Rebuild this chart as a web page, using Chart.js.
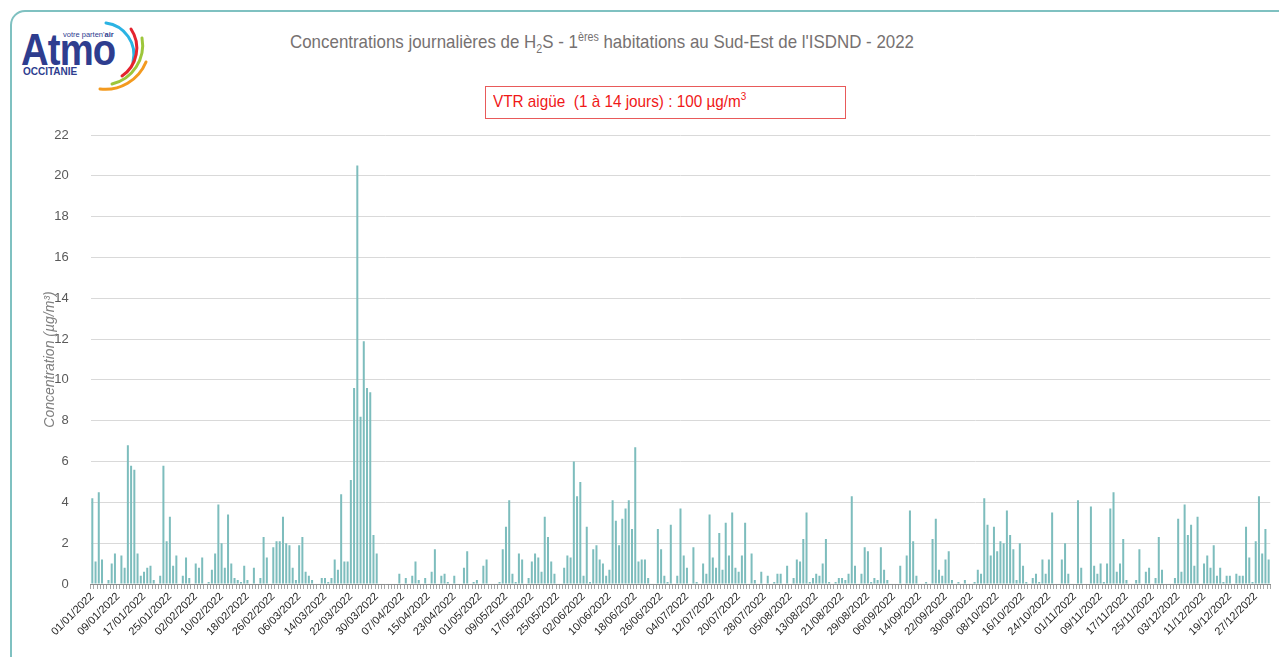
<!DOCTYPE html>
<html lang="fr">

<head>
  <meta charset="UTF-8">
  <title>Concentrations journalières de H2S - 2022</title>
  <script src="https://cdn.jsdelivr.net/npm/chart.js"></script>
  <style>
    body { margin: 0; background: #fff; font-family: 'Liberation Sans', Arial, sans-serif; }
    .frame { position: absolute; left: 10px; top: 10px; width: 1320px; height: 700px;
             border: 2px solid #7fc1c1; border-radius: 15px; box-sizing: border-box; }
    .logo-atmo { position: absolute; left: 21px; top: 28px; font-size: 44px; line-height: 44px;
                 font-weight: bold; color: #2e3d8f; transform: scaleX(0.87); transform-origin: left top;
                 letter-spacing: -1px; }
    .logo-tag { position: absolute; left: 63px; top: 31px; font-size: 7.5px; line-height: 8px; color: #2e3d8f; }
    .logo-occ { position: absolute; left: 23px; top: 67px; font-size: 10px; line-height: 10px;
                font-weight: bold; color: #2e3d8f; }
    .chart-title { position: absolute; left: 290px; top: 32px; font-size: 19px; line-height: 19px;
                   color: #767171; white-space: nowrap; transform: scaleX(0.89); transform-origin: left top; }
    .chart-title sub, .chart-title sup { font-size: 12px; line-height: 0; }
    .vtr-box { position: absolute; left: 485px; top: 86px; width: 361px; height: 33px;
               border: 1px solid #e85a5a; box-sizing: border-box; }
    .vtr-text { position: absolute; left: 493px; top: 93px; font-size: 17px; line-height: 17px;
                color: #f01818; white-space: nowrap; transform: scaleX(0.9); transform-origin: left top; }
    .vtr-text sup { font-size: 11px; line-height: 0; }
    #h2sChart { position: absolute; left: 0; top: 0; }
  </style>
</head>

<body>
  <div class="frame"></div>

  <svg width="170" height="100" style="position:absolute;left:0;top:0">
    <path d="M106,23 A32,32 0 0 1 133,62" fill="none" stroke="#2bb3e3" stroke-width="3" stroke-linecap="round" />
    <path d="M131,29 A34,34 0 0 1 122,76" fill="none" stroke="#e4232e" stroke-width="3" stroke-linecap="round" />
    <path d="M142,38 A40,40 0 0 1 112,84" fill="none" stroke="#9dc63b" stroke-width="3" stroke-linecap="round" />
    <path d="M146,62 A44,44 0 0 1 100,89" fill="none" stroke="#f39a1f" stroke-width="3" stroke-linecap="round" />
  </svg>
  <div class="logo-atmo">Atmo</div>
  <div class="logo-tag">votre parten'<b>air</b></div>
  <div class="logo-occ">OCCITANIE</div>

  <div class="chart-title">Concentrations journalières de H<sub>2</sub>S - 1<sup>ères</sup> habitations au Sud-Est de l'ISDND - 2022</div>
  <div class="vtr-box"></div>
  <div class="vtr-text">VTR aigüe&nbsp; (1 à 14 jours) : 100 µg/m<sup>3</sup></div>

  <canvas id="h2sChart" width="1279" height="657"></canvas>

  <script>
    // Concentrations journalières H2S (µg/m3), mois par mois
    const janValues = [4.2, 1.1, 4.5, 1.2, 0, 0.2, 1.0, 1.5, 0, 1.4, 0.8, 6.8, 5.8, 5.6, 1.5, 0.4, 0.6, 0.8, 0.9, 0.2,
      0, 0.4, 5.8, 2.1, 3.3, 0.9, 1.4, 0, 0.4, 1.3, 0.3];
    const febValues = [0, 1.0, 0.8, 1.3, 0, 0.1, 0.7, 1.5, 3.9, 2.0, 0.8, 3.4, 1.0, 0.3, 0.2, 0.1, 0.9, 0.2, 0, 0.8,
      0, 0.3, 2.3, 1.3, 0, 1.8, 2.1, 2.1];
    const marValues = [3.3, 2.0, 1.9, 0.8, 0.2, 1.9, 2.3, 0.6, 0.4, 0.2, 0, 0, 0.3, 0.3, 0.1, 0.3, 1.2, 0.7, 4.4, 1.1,
      1.1, 5.1, 9.6, 20.5, 8.2, 11.9, 9.6, 9.4, 2.4, 1.5, 0];
    const aprValues = [0, 0, 0, 0, 0, 0.5, 0, 0.3, 0, 0.4, 1.1, 0.2, 0, 0.3, 0, 0.6, 1.7, 0, 0.4, 0.5,
      0.1, 0, 0.4, 0, 0, 0.8, 1.6, 0, 0.1, 0.2];
    const mayValues = [0, 0.9, 1.2, 0, 0, 0, 0.1, 1.7, 2.8, 4.1, 0.5, 0.1, 1.5, 1.2, 0, 0.3, 1.1, 1.5, 1.3, 0.6,
      3.3, 2.3, 1.1, 0.5, 0, 0, 0.8, 1.4, 1.3, 6.0, 4.3];
    const junValues = [5.0, 0.4, 2.8, 0.1, 1.7, 1.9, 1.2, 1.0, 0.4, 0.7, 4.1, 3.1, 1.9, 3.2, 3.7, 4.1, 2.7, 6.7, 1.1, 1.2,
      1.2, 0.3, 0, 0, 2.7, 1.7, 0.4, 0.1, 2.9, 0];
    const julValues = [0.4, 3.7, 1.4, 0.8, 0, 1.8, 0.1, 0, 1.0, 0.5, 3.4, 1.3, 0.8, 2.5, 0.7, 3.0, 1.4, 3.5, 0.8, 0.6,
      1.4, 3.0, 0, 1.5, 0.2, 0, 0.6, 0, 0.4, 0, 0.1];
    const augValues = [0.5, 0.5, 0, 0.9, 0, 0.3, 1.2, 1.1, 2.2, 3.5, 0.1, 0.3, 0.5, 0.4, 1.0, 2.2, 0.1, 0, 0.1, 0.3,
      0.3, 0.2, 0.5, 4.3, 0.9, 0, 0.5, 1.8, 1.6, 0.1, 0.3];
    const sepValues = [0.2, 1.8, 0.7, 0.2, 0, 0, 0, 0.9, 0, 1.4, 3.6, 2.1, 0.4, 0, 0, 0.1, 0, 2.2, 3.2, 0.7,
      0.4, 1.2, 1.6, 0.2, 0, 0.1, 0, 0.2, 0, 0];
    const octValues = [0.1, 0.7, 0.5, 4.2, 2.9, 1.4, 2.8, 1.6, 2.1, 2.0, 3.6, 2.4, 1.7, 0.2, 2.0, 0.9, 0.1, 0, 0.3, 0.5,
      0.1, 1.2, 0.5, 1.2, 3.5, 0, 0, 1.2, 2.0, 0.5, 0];
    const novValues = [0, 4.1, 0.8, 0, 0, 3.8, 0.9, 0.5, 1.0, 0.1, 1.0, 3.7, 4.5, 0.6, 1.0, 2.2, 0.2, 0, 0, 0.2,
      1.7, 0, 0.6, 0.8, 0, 0.3, 2.3, 0.7, 0, 0];
    const decValues = [0, 0.3, 3.2, 0.6, 3.9, 2.4, 2.9, 0.9, 3.3, 0, 1.0, 1.4, 0.8, 1.9, 0.4, 0.8, 0.1, 0.4, 0.4, 0,
      0.5, 0.4, 0.4, 2.8, 1.3, 0.1, 2.1, 4.3, 1.5, 2.7, 1.2];

    const yTicksMin = 0;
    const yTicksMax = 22;
    const yTicksStep = 2;
    const labelEvery = 8; // une date affichée tous les 8 jours

    const h2sValues = [].concat(janValues, febValues, marValues, aprValues, mayValues, junValues,
      julValues, augValues, sepValues, octValues, novValues, decValues);

    // Étiquettes jj/mm/aaaa pour chaque jour de 2022
    const dayLabels = [];
    for (let i = 0; i < h2sValues.length; i++) {
      const d = new Date(Date.UTC(2022, 0, 1 + i));
      const dd = String(d.getUTCDate()).padStart(2, '0');
      const mm = String(d.getUTCMonth() + 1).padStart(2, '0');
      dayLabels.push(`${dd}/${mm}/${d.getUTCFullYear()}`);
    }

    Chart.defaults.font.family = "'Liberation Sans', Arial, sans-serif";

    new Chart(document.getElementById('h2sChart'), {
      type: 'bar',
      data: {
        labels: dayLabels,
        datasets: [{
          label: 'H2S',
          data: h2sValues,
          backgroundColor: '#7dbdbd',
          barPercentage: 0.62,
          categoryPercentage: 1
        }]
      },
      options: {
        responsive: false,
        animation: false,
        layout: { padding: { top: 135, right: 6.4, left: 38, bottom: 0 } },
        plugins: { legend: { display: false }, tooltip: { enabled: false } },
        scales: {
          x: {
            grid: { drawOnChartArea: false, drawTicks: true, tickLength: 5, color: '#a6a6a6' },
            border: { color: '#8c8c8c' },
            ticks: {
              autoSkip: false,
              minRotation: 45,
              maxRotation: 45,
              padding: 1,
              color: '#262626',
              font: { size: 11 },
              callback: (value, index) => index % labelEvery === 0 ? dayLabels[index] : ''
            },
            afterFit: (scale) => { scale.height = 73; }
          },
          y: {
            min: yTicksMin,
            max: yTicksMax,
            grid: { color: '#d9d9d9', drawTicks: false },
            border: { display: false },
            ticks: { stepSize: yTicksStep, padding: 22, color: '#595959', font: { size: 13 } },
            title: {
              display: true,
              text: 'Concentration (µg/m³)',
              color: '#7f7f7f',
              font: { size: 14, style: 'italic' }
            },
            afterFit: (scale) => { scale.width = 52.7; }
          }
        }
      }
    });
  </script>
</body>

</html>
